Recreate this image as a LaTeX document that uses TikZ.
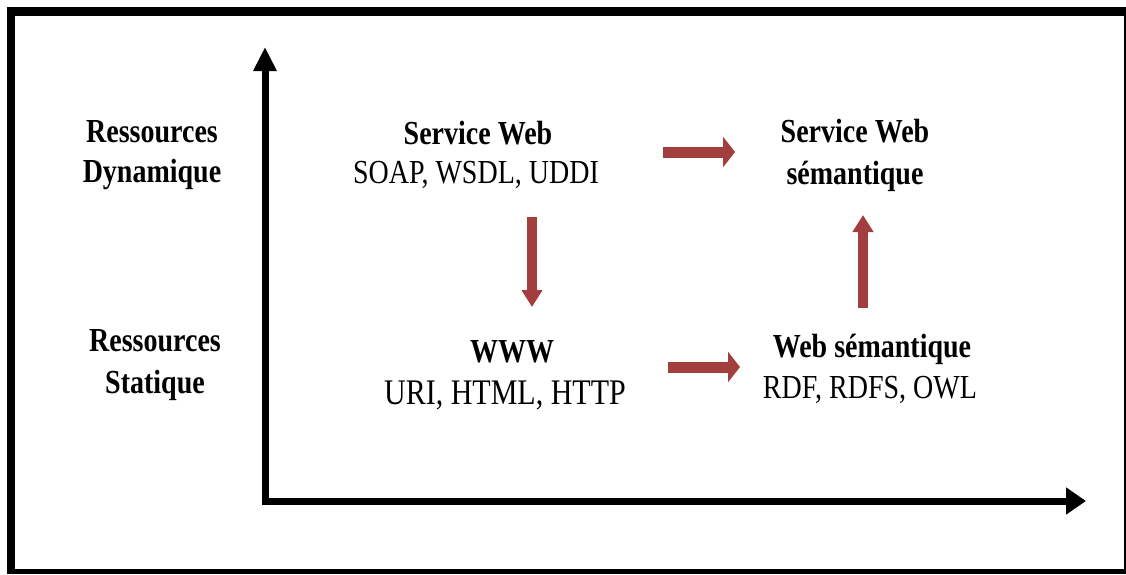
\documentclass[tikz,border=0pt]{standalone}
\usepackage{fontspec}
\setmainfont{Liberation Serif}
\usetikzlibrary{arrows.meta}
\definecolor{flowred}{RGB}{163,62,62}
% slightly tall lettering
\newcommand{\tallt}[1]{\scalebox{1}[1.2]{#1}}
\tikzset{
  lbl/.style={anchor=base, inner sep=0pt, font=\fontsize{14pt}{16pt}\selectfont},
  lblb/.style={lbl, font=\fontsize{14pt}{16pt}\selectfont\bfseries},
  axis/.style={line width=3.5pt, line join=miter, black},
  harrow/.style={flowred, line width=5.5pt, -{Triangle[width=15pt,length=6pt]}},
  varrow/.style={flowred, line width=5pt, -{Triangle[width=10pt,length=8.5pt]}}
}
\begin{document}
\begin{tikzpicture}[x=0.5pt, y=-0.5pt]
  \useasboundingbox (0,0) rectangle (1126,574);
  % outer frame
  \fill[black] (7,7) rectangle (1126,574);
  \fill[white] (15,16) rectangle (1124,569);

  % axes
  \coordinate (ytip) at (265,47);
  \coordinate (o) at (265,501);
  \coordinate (xtip) at (1086,501);
  \draw[axis, {Triangle[width=11pt,length=12pt]}-{Triangle[width=13pt,length=10pt]}] (ytip) -- (o) -- (xtip);

  % row labels
  \node[lblb] (dyn1) at (152,142) {\tallt{Ressources}};
  \node[lblb] (dyn2) at (152,182) {\tallt{Dynamique}};
  \node[lblb] (sta1) at (155,351) {\tallt{Ressources}};
  \node[lblb] (sta2) at (155,393) {\tallt{Statique}};

  % Service Web
  \node[lblb] (sw1) at (478,144) {\tallt{Service Web}};
  \node[lbl]  (sw2) at (476,183) {\tallt{SOAP, WSDL, UDDI}};
  % Service Web sémantique
  \node[lblb] (sws1) at (855,142) {\tallt{Service Web}};
  \node[lblb] (sws2) at (855,184) {\tallt{sémantique}};
  % WWW
  \node[lblb] (www1) at (512,362) {\tallt{WWW}};
  \node[lbl, font=\fontsize{15pt}{17pt}\selectfont]  (www2) at (505,404) {\tallt{URI, HTML, HTTP}};
  % Web sémantique
  \node[lblb] (ws1) at (872,357) {\tallt{Web sémantique}};
  \node[lbl]  (ws2) at (870,398) {\tallt{RDF, RDFS, OWL}};

  % transitions
  \coordinate (a1s) at (663,152); \coordinate (a1e) at (735,152);
  \coordinate (a2s) at (532,217); \coordinate (a2e) at (532,307);
  \coordinate (a3s) at (863,308); \coordinate (a3e) at (863,215);
  \coordinate (a4s) at (668,367); \coordinate (a4e) at (740,367);
  \draw[harrow] (a1s) -- (a1e);
  \draw[varrow] (a2s) -- (a2e);
  \draw[varrow] (a3s) -- (a3e);
  \draw[harrow] (a4s) -- (a4e);
\end{tikzpicture}
\end{document}
